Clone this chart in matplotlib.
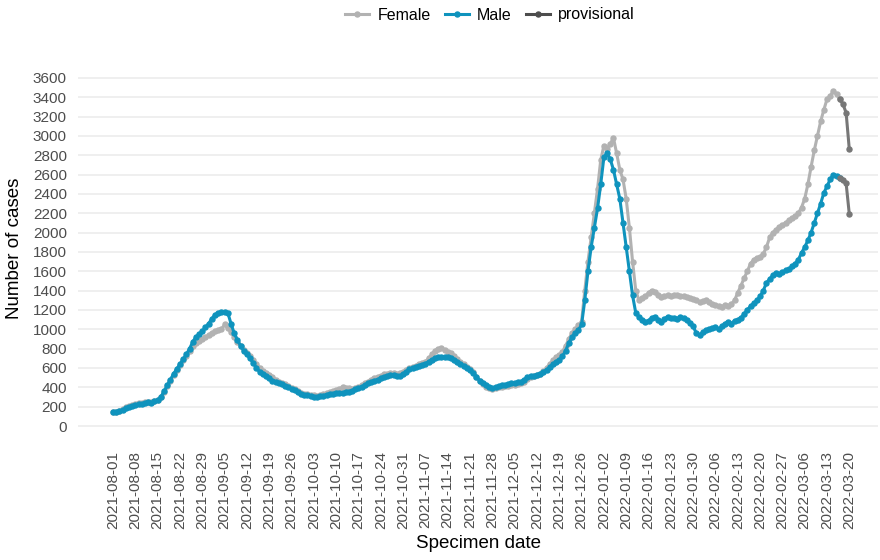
import numpy as np
import pandas as pd
import matplotlib
matplotlib.use("Agg")
import matplotlib.pyplot as plt
import matplotlib.dates as mdates
from matplotlib.lines import Line2D

plt.rcParams["font.family"] = ["Liberation Sans", "DejaVu Sans"]

start_date = "2021-08-01"
end_date = "2022-03-20"
n_provisional = 3  # last days drawn as provisional

# daily case counts, one row per week (Sun..Sat)
female = [
    140, 150, 160, 175, 195, 210, 220,
    230, 240, 235, 245, 250, 245, 260,
    270, 300, 350, 410, 470, 530, 580,
    630, 680, 720, 780, 830, 860, 880,
    900, 920, 940, 960, 980, 990, 1000,
    1050, 1010, 970, 920, 870, 830, 790,
    760, 720, 680, 640, 600, 570, 550,
    530, 510, 480, 460, 445, 430, 415,
    395, 380, 360, 345, 335, 330, 325,
    320, 315, 320, 330, 340, 350, 360,
    370, 385, 400, 395, 390, 385, 390,
    400, 420, 440, 460, 480, 500, 510,
    520, 535, 540, 545, 550, 540, 545,
    560, 580, 600, 610, 625, 640, 650,
    665, 700, 740, 780, 800, 805, 790,
    770, 750, 720, 690, 660, 640, 615,
    590, 555, 510, 465, 430, 405, 390,
    380, 390, 400, 405, 410, 415, 420,
    425, 430, 440, 460, 485, 505, 515,
    525, 540, 565, 600, 640, 680, 710,
    730, 770, 830, 900, 960, 1000, 1040,
    1080, 1400, 1700, 1950, 2200, 2450, 2750,
    2900, 2870, 2920, 2980, 2820, 2650, 2550,
    2350, 2050, 1700, 1400, 1300, 1320, 1340,
    1380, 1400, 1390, 1360, 1330, 1340, 1350,
    1340, 1350, 1360, 1340, 1345, 1330, 1320,
    1310, 1300, 1280, 1290, 1300, 1280, 1260,
    1250, 1240, 1230, 1250, 1240, 1260, 1300,
    1380, 1450, 1530, 1600, 1680, 1720, 1740,
    1750, 1780, 1850, 1950, 2000, 2030, 2060,
    2080, 2100, 2130, 2150, 2170, 2200, 2260,
    2350, 2500, 2680, 2850, 3000, 3150, 3270,
    3380, 3410, 3470, 3430, 3380, 3330, 3240,
    2860,
]

male = [
    145, 148, 155, 165, 185, 200, 210,
    220, 225, 230, 235, 245, 240, 255,
    265, 300, 360, 420, 480, 540, 590,
    640, 690, 740, 800, 870, 920, 950,
    980, 1020, 1060, 1110, 1150, 1170, 1175,
    1180, 1170, 1060, 960, 890, 830, 780,
    740, 700, 650, 600, 560, 540, 520,
    500, 470, 455, 440, 430, 415, 400,
    385, 370, 350, 335, 325, 320, 315,
    305, 300, 310, 315, 325, 330, 335,
    340, 345, 340, 350, 355, 365, 380,
    395, 405, 420, 440, 455, 470, 480,
    495, 505, 515, 525, 530, 520, 515,
    535, 560, 585, 600, 615, 625, 635,
    645, 665, 685, 700, 710, 715, 712,
    710, 700, 685, 665, 645, 625, 605,
    580, 550, 510, 470, 440, 420, 405,
    395, 400, 410, 420, 425, 430, 440,
    445, 450, 460, 480, 505, 515, 520,
    530, 540, 560, 580, 610, 640, 660,
    680, 720, 780, 860, 920, 960, 990,
    1050, 1300, 1600, 1850, 2050, 2250, 2500,
    2780, 2820, 2760, 2650, 2500, 2350, 2100,
    1850, 1600, 1350, 1170, 1130, 1100, 1080,
    1090, 1120, 1130, 1100, 1080, 1110, 1130,
    1120, 1120, 1110, 1130, 1120, 1100, 1070,
    1030, 960, 940, 970, 990, 1000, 1010,
    1020, 1000, 1030, 1060, 1080, 1060, 1090,
    1100, 1120, 1160, 1200, 1240, 1270, 1300,
    1340, 1400, 1480, 1520, 1560, 1580, 1570,
    1590, 1610, 1620, 1650, 1680, 1720, 1790,
    1850, 1920, 2000, 2100, 2200, 2300, 2410,
    2480, 2550, 2600, 2590, 2570, 2540, 2510,
    2190,
]

y_ticks = list(range(0, 3601, 200))

female_col = "#b2b2b2"
male_col = "#0f93bd"
prov_col = "#777777"

dates = pd.date_range(start_date, end_date, freq="D")
female = np.array(female)
male = np.array(male)
cut = len(dates) - n_provisional

fig = plt.figure(figsize=(8.8, 5.6), dpi=100)
ax = fig.add_axes([78 / 880, 1 - 432 / 560, 800 / 880, 367 / 560])

style = dict(marker="o", markersize=3.6, linewidth=2.2, solid_joinstyle="round")
ax.plot(dates[:cut], female[:cut], color=female_col, **style, zorder=2)
ax.plot(dates[:cut], male[:cut], color=male_col, **style, zorder=3)
ax.plot(dates[cut - 1:], female[cut - 1:], color=prov_col, **style, zorder=4)
ax.plot(dates[cut - 1:], male[cut - 1:], color=prov_col, **style, zorder=4)

# axis limits chosen so the pixel positions line up with the original
d0 = mdates.date2num(dates[0])
ax.set_xlim(d0 - 11, d0 + 240)
ax.set_ylim(-62, 3734)

week_ticks = pd.date_range(start_date, end_date, freq="7D")
ax.set_xticks(week_ticks)
ax.set_xticklabels([d.strftime("%Y-%m-%d") for d in week_ticks], rotation=90)
ax.set_yticks(y_ticks)

ax.tick_params(axis="both", length=0, colors="#4d4d4d", labelsize=11)
ax.tick_params(axis="x", pad=14)
ax.tick_params(axis="y", pad=8)
ax.grid(axis="y", color="#ebebeb", linewidth=1.1)
ax.set_axisbelow(True)
for s in ax.spines.values():
    s.set_visible(False)

ax.set_xlabel("Specimen date", fontsize=13.5, labelpad=4)
ax.set_ylabel("Number of cases", fontsize=13.5, labelpad=7)

handles = [
    Line2D([], [], color=female_col, marker="o", markersize=3.6, linewidth=2.2),
    Line2D([], [], color=male_col, marker="o", markersize=3.6, linewidth=2.2),
    Line2D([], [], color="#4d4d4d", marker="o", markersize=3.6, linewidth=2.2),
]
fig.legend(handles, ["Female", "Male", "provisional"], loc="center",
           bbox_to_anchor=(490 / 880, 1 - 15 / 560), ncol=3, frameon=False,
           fontsize=11.5, handlelength=1.5, columnspacing=0.9, handletextpad=0.5)

fig.savefig("out.png", dpi=100)
